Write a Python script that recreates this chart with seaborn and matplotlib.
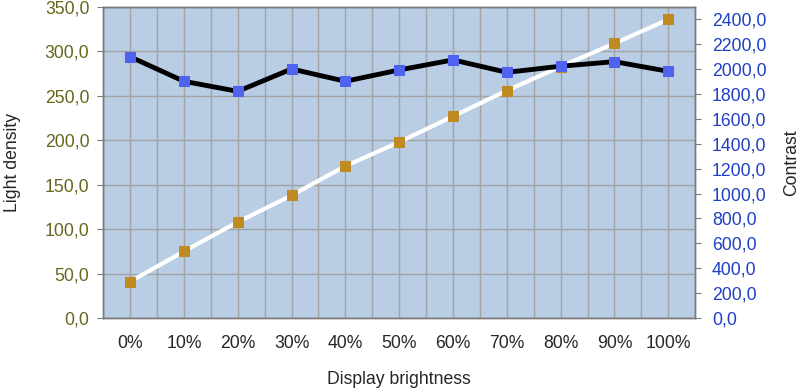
import matplotlib
matplotlib.use("Agg")
import matplotlib.pyplot as plt
import seaborn as sns
import pandas as pd
from matplotlib.ticker import FuncFormatter, MultipleLocator

sns.set_style("white")
plt.rcParams["font.family"] = ["Liberation Sans", "DejaVu Sans"]

BRIGHTNESS = ["0%", "10%", "20%", "30%", "40%", "50%", "60%", "70%", "80%", "90%", "100%"]
LIGHT_DENSITY = [41, 75, 108, 138, 171, 198, 227, 256, 283, 309, 336]
CONTRAST = [2100, 1903, 1822, 2002, 1903, 1994, 2075, 1975, 2024, 2061, 1983]

BG = "#b9cde5"
GRID = "#a3a3a3"
SPINE = "#7a7a7a"
LEFT_TXT = "#66661c"
RIGHT_TXT = "#1f3fc4"
FS = 12.7


def comma_fmt(v, _):
    return f"{v:.1f}".replace(".", ",")


def main():
    df = pd.DataFrame({"pos": range(len(BRIGHTNESS)),
                       "light": LIGHT_DENSITY,
                       "contrast": CONTRAST})

    fig = plt.figure(figsize=(8, 3.9), dpi=100)
    ax = fig.add_axes([0.129, 0.1846, 0.74, 0.7974])
    ax.set_facecolor(BG)

    sns.lineplot(data=df, x="pos", y="light", ax=ax, color="white", lw=3,
                 marker="s", markersize=6.5, markerfacecolor="#c08a22",
                 markeredgecolor="#c08a22", zorder=3)

    ax.set_xlim(-0.5, len(BRIGHTNESS) - 0.5)
    ax.set_ylim(0, 350)
    ax.yaxis.set_major_locator(MultipleLocator(50))
    ax.yaxis.set_major_formatter(FuncFormatter(comma_fmt))
    ax.set_xticks(range(len(BRIGHTNESS)))
    ax.set_xticklabels(BRIGHTNESS)
    ax.set_xticks([i + 0.5 for i in range(-1, len(BRIGHTNESS))], minor=True)
    ax.grid(True, which="both", axis="x", color=GRID, lw=1)
    ax.grid(True, which="major", axis="y", color=GRID, lw=1)
    ax.set_axisbelow(True)
    ax.tick_params(axis="x", which="minor", length=0)
    ax.tick_params(axis="both", which="major", length=4, color=SPINE,
                   labelsize=FS, direction="out")
    ax.tick_params(axis="x", pad=8)
    ax.tick_params(axis="y", colors=SPINE, labelcolor=LEFT_TXT, pad=6)
    ax.set_xlabel("Display brightness", fontsize=FS, labelpad=14)
    ax.set_ylabel("Light density", fontsize=FS, labelpad=17)

    ax2 = ax.twinx()
    sns.lineplot(data=df, x="pos", y="contrast", ax=ax2, color="black", lw=3.5,
                 marker="s", markersize=6.5, markerfacecolor="#4f63ef",
                 markeredgecolor="#4f63ef", zorder=4)
    ax2.set_ylim(0, 2500)
    ax2.set_yticks(range(0, 2401, 200))
    ax2.yaxis.set_major_formatter(FuncFormatter(comma_fmt))
    ax2.tick_params(axis="y", length=4, color=SPINE, labelsize=FS,
                    labelcolor=RIGHT_TXT, pad=8)
    ax2.set_ylabel("Contrast", fontsize=FS, rotation=90, labelpad=12)
    ax2.set_xlim(-0.5, len(BRIGHTNESS) - 0.5)

    for a in (ax, ax2):
        for sp in a.spines.values():
            sp.set_color(SPINE)
            sp.set_linewidth(1)

    fig.savefig("out.png", dpi=100, facecolor="white")
    plt.close(fig)


if __name__ == "__main__":
    main()
